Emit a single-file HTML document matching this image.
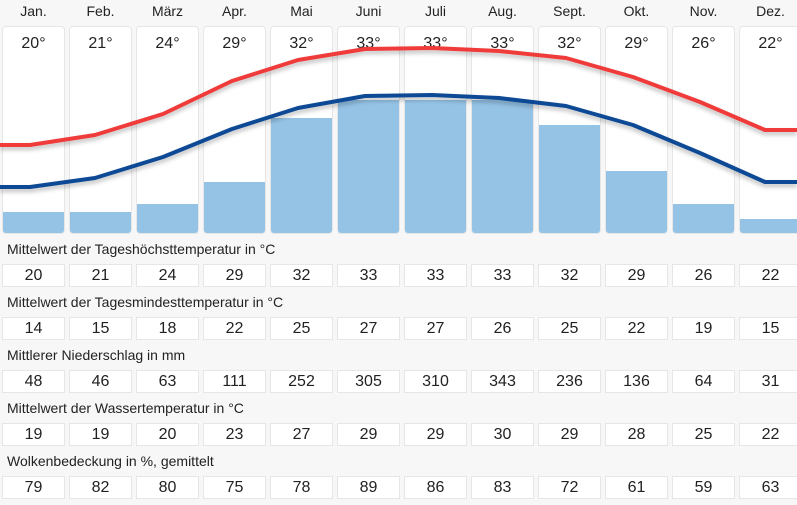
<!DOCTYPE html>
<html><head><meta charset="utf-8"><style>
body{margin:0;width:797px;height:505px;background:#f7f7f7;font-family:"Liberation Sans",sans-serif;color:#222;position:relative;overflow:hidden}
.m{position:absolute;top:3px;width:63px;text-align:center;font-size:14px}
.card{position:absolute;top:26px;width:61px;height:206px;background:#fff;border:1px solid #e6e6e6;border-radius:4px;overflow:hidden}
.card .t{text-align:center;font-size:16px;margin-top:8px}
.bar{position:absolute;left:0;right:0;bottom:0;background:#95c3e6}
.lab{position:absolute;left:7px;font-size:14px}
.box{position:absolute;width:61px;height:21px;background:#fff;border:1px solid #e6e6e6;text-align:center;font-size:16px;line-height:21px}
svg{position:absolute;left:0;top:0}
</style></head><body>
<div id="c"></div>
<svg width="797" height="240"><defs><filter id="s" x="-5%" y="-20%" width="110%" height="140%"><feDropShadow dx="0" dy="3" stdDeviation="2" flood-opacity="0.25"/></filter></defs>
<polyline filter="url(#s)" fill="none" stroke="#f03a3a" stroke-width="4" stroke-linejoin="round" points="0,145 30,145 95,135 163,114 232,81 298,60 365,49 432,48 499,51 566,58 633,77 700,102 765,130 797,130"/>
<polyline filter="url(#s)" fill="none" stroke="#0b4a94" stroke-width="4" stroke-linejoin="round" points="0,187 30,187 95,178 163,157 232,129 298,108 365,96 432,95 499,98 566,106 633,125 700,153 765,182 797,182"/>
</svg>
<script>
var M=["Jan.","Feb.","März","Apr.","Mai","Juni","Juli","Aug.","Sept.","Okt.","Nov.","Dez."];
var T=[20,21,24,29,32,33,33,33,32,29,26,22];
var B=[212,212,204,182,118,100,100,100,125,171,204,219];
var rows=[["Mittelwert der Tageshöchsttemperatur in °C",[20,21,24,29,32,33,33,33,32,29,26,22]],
["Mittelwert der Tagesmindesttemperatur in °C",[14,15,18,22,25,27,27,26,25,22,19,15]],
["Mittlerer Niederschlag in mm",[48,46,63,111,252,305,310,343,236,136,64,31]],
["Mittelwert der Wassertemperatur in °C",[19,19,20,23,27,29,29,30,29,28,25,22]],
["Wolkenbedeckung in %, gemittelt",[79,82,80,75,78,89,86,83,72,61,59,63]]];
var h="";
for(var i=0;i<12;i++){var x=2+67*i;
h+='<div class="m" style="left:'+x+'px">'+M[i]+'</div>';
h+='<div class="card" style="left:'+x+'px"><div class="t">'+T[i]+'°</div><div class="bar" style="height:'+(233-B[i])+'px"></div></div>';}
for(var r=0;r<5;r++){var y=240+53*r;
h+='<div class="lab" style="top:'+(y+1)+'px">'+rows[r][0]+'</div>';
for(var i=0;i<12;i++)h+='<div class="box" style="left:'+(2+67*i)+'px;top:'+(y+24)+'px">'+rows[r][1][i]+'</div>';}
document.getElementById("c").innerHTML=h;
document.body.appendChild(document.querySelector("svg"));
</script>
</body></html>
